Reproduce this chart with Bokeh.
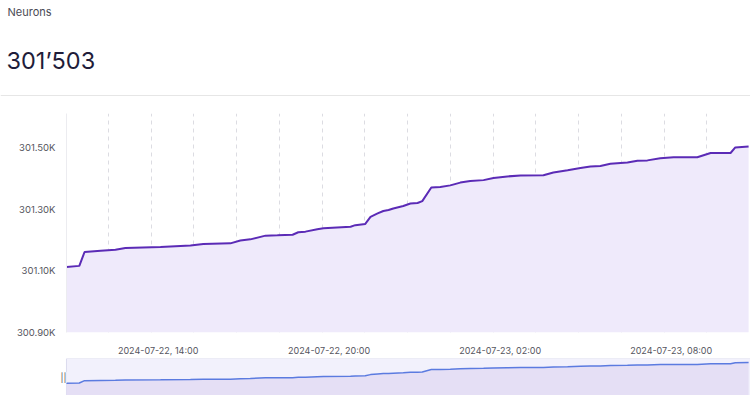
import pandas as pd
from bokeh.plotting import figure
from bokeh.layouts import column
from bokeh.models import (Range1d, FixedTicker, DatetimeTickFormatter, CustomJSTickFormatter,
                          Label, Span, BoxAnnotation)
from bokeh.embed import file_html
from bokeh.resources import INLINE

# ---------------- data ----------------
title_text = "Neurons"
current_value_text = "301\u2019503"

times = [
    "2024-07-22 10:47", "2024-07-22 11:14", "2024-07-22 11:25", "2024-07-22 11:59",
    "2024-07-22 12:30", "2024-07-22 12:51", "2024-07-22 14:05", "2024-07-22 15:08",
    "2024-07-22 15:35", "2024-07-22 16:32", "2024-07-22 16:53", "2024-07-22 17:14",
    "2024-07-22 17:46", "2024-07-22 18:11", "2024-07-22 18:43", "2024-07-22 18:55",
    "2024-07-22 19:10", "2024-07-22 19:35", "2024-07-22 19:48", "2024-07-22 20:45",
    "2024-07-22 20:55", "2024-07-22 21:16", "2024-07-22 21:27", "2024-07-22 21:42",
    "2024-07-22 21:54", "2024-07-22 22:05", "2024-07-22 22:15", "2024-07-22 22:36",
    "2024-07-22 22:51", "2024-07-22 23:06", "2024-07-22 23:16", "2024-07-22 23:35",
    "2024-07-22 23:54", "2024-07-23 00:15", "2024-07-23 00:36", "2024-07-23 00:57",
    "2024-07-23 01:25", "2024-07-23 01:46", "2024-07-23 02:15", "2024-07-23 02:43",
    "2024-07-23 03:31", "2024-07-23 03:52", "2024-07-23 04:22", "2024-07-23 04:49",
    "2024-07-23 05:10", "2024-07-23 05:31", "2024-07-23 05:52", "2024-07-23 06:28",
    "2024-07-23 06:49", "2024-07-23 07:10", "2024-07-23 07:37", "2024-07-23 08:05",
    "2024-07-23 08:55", "2024-07-23 09:23", "2024-07-23 10:05", "2024-07-23 10:15",
    "2024-07-23 10:43",
]
neurons = [
    301112, 301116, 301161, 301165, 301168, 301174, 301177, 301182,
    301187, 301189, 301198, 301202, 301214, 301215, 301217, 301225,
    301227, 301235, 301238, 301243, 301248, 301252, 301275, 301286,
    301294, 301297, 301302, 301310, 301318, 301320, 301326, 301370,
    301372, 301377, 301386, 301391, 301394, 301401, 301406, 301409,
    301410, 301419, 301426, 301433, 301438, 301440, 301447, 301451,
    301457, 301458, 301465, 301468, 301468, 301482, 301482, 301500,
    301503,
]
x_start, x_end = "2024-07-22 10:47", "2024-07-23 10:47"
slider_x_start = "2024-07-22 10:26"   # room for the left slider handle
x_label_ticks = ["2024-07-22 14:00", "2024-07-22 20:00", "2024-07-23 02:00", "2024-07-23 08:00"]
x_grid_ticks = ["2024-07-22 12:15", "2024-07-22 13:45", "2024-07-22 15:15", "2024-07-22 16:45",
                "2024-07-22 18:15", "2024-07-22 19:45", "2024-07-22 21:15", "2024-07-22 22:45",
                "2024-07-23 00:15", "2024-07-23 01:45", "2024-07-23 03:15", "2024-07-23 04:45",
                "2024-07-23 06:15", "2024-07-23 07:45", "2024-07-23 09:15"]
y_ticks = [300900, 301100, 301300, 301500]
y_min, y_max = 300900, 301610
slider_y_min, slider_y_max = 300880, 301580

# ---------------- helpers ----------------
t = pd.to_datetime(times)
to_ms = lambda lst: [pd.Timestamp(s).value / 1e6 for s in lst]

FONT = "Inter"
W = 750
LEFT = 66

# ---------------- header ----------------
HDR_H = 105
hdr = figure(width=W, height=HDR_H, output_backend="svg", toolbar_location=None,
             x_range=Range1d(0, W), y_range=Range1d(0, HDR_H),
             x_axis_location=None, y_axis_location=None,
             min_border=0, min_border_left=0, min_border_right=0,
             min_border_top=0, min_border_bottom=0, outline_line_color=None)
hdr.grid.visible = False
hdr.add_layout(Label(x=7, y=HDR_H - 11.5, x_units="screen", y_units="screen", text=title_text,
                     text_font=FONT, text_font_size="11px", text_color="#4a4a55",
                     text_baseline="middle"))
hdr.add_layout(Label(x=6, y=HDR_H - 60, x_units="screen", y_units="screen", text=current_value_text,
                     text_font=FONT, text_font_size="23.5px", text_color="#1f1d3a",
                     text_baseline="middle"))
hdr.add_layout(Span(location=HDR_H - 95, dimension="width", line_color="#e6e6e6", line_width=1))

# ---------------- main chart ----------------
xr = Range1d(pd.Timestamp(x_start), pd.Timestamp(x_end))
p = figure(width=W, height=253, output_backend="svg", toolbar_location=None,
           x_axis_type="datetime", x_range=xr, y_range=Range1d(y_min, y_max),
           min_border_left=LEFT, min_border_right=0, min_border_top=8, min_border_bottom=25,
           outline_line_color=None)
p.varea(x=t, y1=y_min, y2=neurons, fill_color="#efeafb", fill_alpha=1)
p.line(x=t, y=neurons, line_color="#5b2bb6", line_width=2)

p.xaxis.ticker = FixedTicker(ticks=to_ms(x_label_ticks))
fmt = "%Y-%m-%d, %H:%M"
p.xaxis.formatter = DatetimeTickFormatter(minutes=fmt, hourmin=fmt, hours=fmt, days=fmt,
                                          months=fmt, years=fmt)
p.xaxis.axis_line_color = None
p.xaxis.major_tick_line_color = None
p.xaxis.minor_tick_line_color = None
p.xaxis.major_label_standoff = 6
p.xaxis.major_label_text_font = FONT
p.xaxis.major_label_text_font_size = "9px"
p.xaxis.major_label_text_color = "#555560"

p.yaxis.ticker = FixedTicker(ticks=y_ticks)
p.yaxis.formatter = CustomJSTickFormatter(code="return (tick/1000).toFixed(2) + 'K';")
p.yaxis.axis_line_color = "#ececf0"
p.yaxis.major_tick_line_color = None
p.yaxis.minor_tick_line_color = None
p.yaxis.major_label_standoff = 5
p.yaxis.major_label_text_font = FONT
p.yaxis.major_label_text_font_size = "9.5px"
p.yaxis.major_label_text_color = "#555560"

p.ygrid.visible = False
p.xgrid.ticker = FixedTicker(ticks=to_ms(x_grid_ticks))
p.xgrid.grid_line_color = "#dcdce2"
p.xgrid.grid_line_dash = "4 4"
p.xgrid.grid_line_width = 1

# ---------------- slider ----------------
SL = LEFT - 10
s = figure(width=W, height=37, output_backend="svg", toolbar_location=None,
           x_axis_type="datetime",
           x_range=Range1d(pd.Timestamp(slider_x_start), pd.Timestamp(x_end)),
           y_range=Range1d(slider_y_min, slider_y_max),
           x_axis_location=None, y_axis_location=None,
           min_border_left=SL, min_border_right=0, min_border_top=0, min_border_bottom=0,
           outline_line_color=None, background_fill_color="white")
s.grid.visible = False
s.add_layout(BoxAnnotation(left=pd.Timestamp(x_start), fill_color="#f2f1fc", fill_alpha=1,
                           line_color="#dcdcee", line_alpha=1, level="underlay"))
s.varea(x=t, y1=slider_y_min, y2=neurons, fill_color="#e5dff5", fill_alpha=1)
s.line(x=t, y=neurons, line_color="#5b7be0", line_width=1.5)
s.add_layout(Label(x=7, y=18, x_units="screen", y_units="screen", text="||",
                   text_font=FONT, text_font_size="9px", text_color="#555560",
                   text_align="center", text_baseline="middle",
                   background_fill_color="white", background_fill_alpha=0.9))

layout = column(hdr, column(p, spacing=0), column(s, spacing=0), spacing=0)
open("out.html", "w").write(file_html(layout, INLINE))
